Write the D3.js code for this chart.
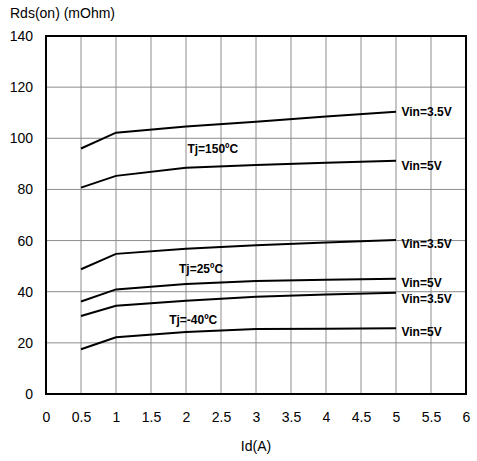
<!DOCTYPE html>
<html><head><meta charset="utf-8">
<script src="https://cdn.jsdelivr.net/npm/d3@7"></script>
<style>body{margin:0;background:#fff}text{font-family:"Liberation Sans",Arial,sans-serif}</style>
</head><body><svg id="c" width="477" height="461"></svg>
<script>
const idVals = [0.5, 1, 2, 3, 4, 5];
const s150_35 = [96, 102.2, 104.6, 106.5, 108.5, 110.4];
const s150_5  = [80.7, 85.3, 88.5, 89.6, 90.4, 91.2];
const s25_35  = [48.8, 54.8, 56.8, 58.2, 59.2, 60.2];
const s25_5   = [36.2, 40.9, 43.0, 44.2, 44.7, 45.1];
const sm40_35 = [30.5, 34.5, 36.5, 38.0, 38.9, 39.6];
const sm40_5  = [17.5, 22.2, 24.2, 25.4, 25.5, 25.7];
const seriesList = [s150_35, s150_5, s25_35, s25_5, sm40_35, sm40_5];
const vinLabels = ["Vin=3.5V", "Vin=5V", "Vin=3.5V", "Vin=5V", "Vin=3.5V", "Vin=5V"];
const vinDy = [0.6, 5.3, 4, 4, 5.8, 3.4];
const tjLabels = ["Tj=150ºC", "Tj=25ºC", "Tj=-40ºC"];
const tjX = [2.02, 1.9, 1.76];
const tjY = [95.7, 48.8, 28.9];
const xTicks = [0, 0.5, 1, 1.5, 2, 2.5, 3, 3.5, 4, 4.5, 5, 5.5, 6];
const yTicks = [0, 20, 40, 60, 80, 100, 120, 140];

const svg = d3.select("#c");
const L = 46, R = 466, T = 36, B = 394;
const x = d3.scaleLinear().domain([0, 6]).range([L, R]);
const y = d3.scaleLinear().domain([0, 140]).range([B, T]);

// grid
svg.append("g").selectAll("line").data(xTicks.slice(1, -1)).join("line")
  .attr("x1", d => x(d)).attr("x2", d => x(d)).attr("y1", T).attr("y2", B)
  .attr("stroke", "#8c8c8c").attr("stroke-width", 1);
svg.append("g").selectAll("line").data(yTicks.slice(1, -1)).join("line")
  .attr("y1", d => y(d)).attr("y2", d => y(d)).attr("x1", L).attr("x2", R)
  .attr("stroke", "#8c8c8c").attr("stroke-width", 1);

// axes (labels only)
const xa = svg.append("g").attr("transform", `translate(0,${B})`)
  .call(d3.axisBottom(x).tickValues(xTicks).tickSize(0).tickPadding(18).tickFormat(d3.format("")));
const ya = svg.append("g").attr("transform", `translate(${L},0)`)
  .call(d3.axisLeft(y).tickValues(yTicks).tickSize(0).tickPadding(13));
[xa, ya].forEach(a => {
  a.select(".domain").remove();
  a.selectAll("text").attr("font-size", 14).attr("fill", "#000")
    .attr("font-family", "'Liberation Sans',Arial,sans-serif");
});

// frame
svg.append("rect").attr("x", L).attr("y", T).attr("width", R - L).attr("height", B - T)
  .attr("fill", "none").attr("stroke", "#000").attr("stroke-width", 2);

// lines
const line = d3.line().x((d, i) => x(idVals[i])).y(d => y(d));
svg.append("g").selectAll("path").data(seriesList).join("path")
  .attr("d", d => line(d)).attr("fill", "none").attr("stroke", "#000").attr("stroke-width", 2);

// vin labels
svg.append("g").selectAll("text").data(seriesList).join("text")
  .attr("x", x(idVals[idVals.length - 1]) + 5.5)
  .attr("y", (d, i) => y(d[d.length - 1]) + vinDy[i])
  .attr("dy", "0.35em")
  .attr("font-size", 12).attr("font-weight", "bold")
  .text((d, i) => vinLabels[i]);

// Tj labels
svg.append("g").selectAll("text").data(tjLabels).join("text")
  .attr("x", (d, i) => x(tjX[i])).attr("y", (d, i) => y(tjY[i]))
  .attr("dy", "0.35em").attr("font-size", 12).attr("font-weight", "bold")
  .text(d => d);

// titles
svg.append("text").attr("x", 10).attr("y", 13).attr("dy", "0.35em")
  .attr("font-size", 14).text("Rds(on) (mOhm)");
svg.append("text").attr("x", (L + R) / 2).attr("y", 446).attr("dy", "0.35em")
  .attr("text-anchor", "middle").attr("font-size", 14).text("Id(A)");
</script></body></html>
